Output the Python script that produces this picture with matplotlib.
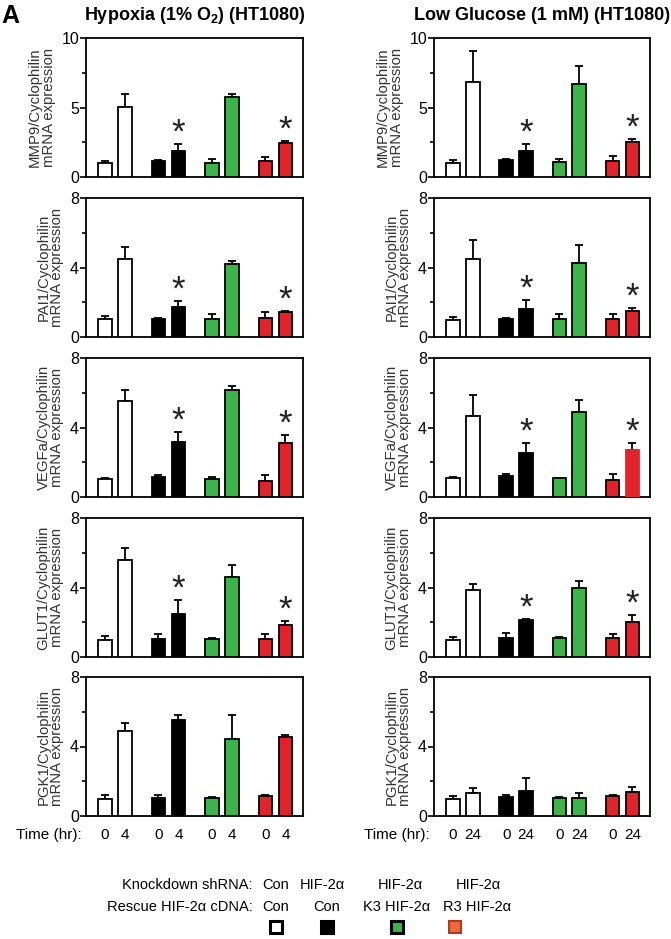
import matplotlib
matplotlib.use("Agg")
import matplotlib.pyplot as plt
from matplotlib.patches import Rectangle
import numpy as np

plt.rcParams['font.family'] = ['Liberation Sans', 'DejaVu Sans']
plt.rcParams['mathtext.fontset'] = 'custom'
plt.rcParams['mathtext.rm'] = 'Liberation Sans'
plt.rcParams['mathtext.bf'] = 'Liberation Sans:bold'

# ---------------- data ----------------
genes = ["MMP9", "PAI1", "VEGFa", "GLUT1", "PGK1"]
ymax = [10, 8, 8, 8, 8]
col_titles = [r"Hypoxia (1% O$_\mathbf{2}$) (HT1080)", "Low Glucose (1 mM) (HT1080)"]
time_labels_hyp = ["0", "4", "0", "4", "0", "4", "0", "4"]
time_labels_glc = ["0", "24", "0", "24", "0", "24", "0", "24"]

# bar order: Con 0, Con t, KD 0, KD t, K3 0, K3 t, R3 0, R3 t
hyp_mmp9 = [1.01, 5.06, 1.18, 1.86, 1.04, 5.76, 1.13, 2.43]
hyp_mmp9_err = [0.12, 0.90, 0.07, 0.50, 0.24, 0.24, 0.34, 0.17]
hyp_pai1 = [1.03, 4.50, 1.05, 1.75, 1.05, 4.22, 1.10, 1.45]
hyp_pai1_err = [0.19, 0.70, 0.07, 0.35, 0.25, 0.13, 0.35, 0.05]
hyp_vegfa = [1.06, 5.54, 1.13, 3.17, 1.04, 6.13, 0.92, 3.10]
hyp_vegfa_err = [0.04, 0.59, 0.12, 0.56, 0.09, 0.24, 0.37, 0.44]
hyp_glut1 = [1.00, 5.60, 1.05, 2.50, 1.05, 4.60, 1.05, 1.85]
hyp_glut1_err = [0.20, 0.70, 0.30, 0.80, 0.05, 0.70, 0.25, 0.25]
hyp_pgk1 = [1.00, 4.90, 1.05, 5.50, 1.05, 4.45, 1.15, 4.55]
hyp_pgk1_err = [0.20, 0.45, 0.15, 0.30, 0.05, 1.35, 0.05, 0.10]

glc_mmp9 = [1.04, 6.87, 1.23, 1.88, 1.08, 6.67, 1.16, 2.53]
glc_mmp9_err = [0.16, 2.17, 0.05, 0.53, 0.22, 1.28, 0.36, 0.17]
glc_pai1 = [1.00, 4.50, 1.05, 1.60, 1.05, 4.25, 1.05, 1.50]
glc_pai1_err = [0.15, 1.10, 0.05, 0.55, 0.30, 1.05, 0.30, 0.15]
glc_vegfa = [1.12, 4.69, 1.19, 2.56, 1.08, 4.88, 0.96, 2.73]
glc_vegfa_err = [0.03, 1.16, 0.14, 0.52, 0.04, 0.72, 0.35, 0.35]
glc_glut1 = [1.00, 3.85, 1.10, 2.15, 1.10, 4.00, 1.10, 2.00]
glc_glut1_err = [0.15, 0.35, 0.30, 0.05, 0.05, 0.35, 0.25, 0.40]
glc_pgk1 = [1.00, 1.30, 1.10, 1.45, 1.05, 1.05, 1.15, 1.40]
glc_pgk1_err = [0.15, 0.30, 0.10, 0.75, 0.05, 0.30, 0.05, 0.25]

hyp_vals = [hyp_mmp9, hyp_pai1, hyp_vegfa, hyp_glut1, hyp_pgk1]
hyp_errs = [hyp_mmp9_err, hyp_pai1_err, hyp_vegfa_err, hyp_glut1_err, hyp_pgk1_err]
glc_vals = [glc_mmp9, glc_pai1, glc_vegfa, glc_glut1, glc_pgk1]
glc_errs = [glc_mmp9_err, glc_pai1_err, glc_vegfa_err, glc_glut1_err, glc_pgk1_err]

# significance stars (bar index) per gene
star_bars = [[3, 7], [3, 7], [3, 7], [3, 7], []]

WHITE = "#FFFFFF"
BLACK = "#000000"
GREEN = "#3DB449"
RED = "#E3232B"
bar_colors = [WHITE, WHITE, BLACK, BLACK, GREEN, GREEN, RED, RED]

legend_knock = ["Con", "HIF-2α", "HIF-2α", "HIF-2α"]
legend_rescue = ["Con", "Con", "K3 HIF-2α", "R3 HIF-2α"]
legend_colors = [WHITE, BLACK, GREEN, "#EE6A3C"]

# ---------------- layout ----------------
W, H = 671, 939
fig = plt.figure(figsize=(W / 100, H / 100), dpi=100)

def px_axes(x0, y0, x1, y1):
    return fig.add_axes([x0 / W, 1 - y1 / H, (x1 - x0) / W, (y1 - y0) / H])

col_x = [(86, 303), (434, 650)]
row_y = [(38, 177), (198, 337), (358, 497), (518, 657), (677, 816)]

gstep = 2.67
xpos = []
for g in range(4):
    xpos += [g * gstep, g * gstep + 1.0]
xpos = np.array(xpos)
xlim = (-0.95, xpos[-1] + 0.88)

for c in range(2):
    vals_all = hyp_vals if c == 0 else glc_vals
    errs_all = hyp_errs if c == 0 else glc_errs
    for r in range(5):
        x0, x1 = col_x[c]
        y0, y1 = row_y[r]
        ax = px_axes(x0, y0, x1, y1)
        vals = np.array(vals_all[r])
        errs = np.array(errs_all[r])
        edgecols = [BLACK] * 8
        if c == 1 and r == 2:
            edgecols[7] = RED
        ax.bar(xpos, vals, width=0.68, color=bar_colors, edgecolor=edgecols,
               linewidth=1.3, zorder=3)
        ax.errorbar(xpos, vals, yerr=[np.zeros(8), errs], fmt='none',
                    ecolor='black', elinewidth=1.3, capsize=3, capthick=1.3,
                    zorder=2)
        for b in star_bars[r]:
            ax.annotate("*", xy=(xpos[b], vals[b] + errs[b]), xytext=(0, 1),
                        textcoords='offset points', ha='center', va='baseline',
                        fontsize=25, color='#222222')
        ax.set_xlim(*xlim)
        ax.set_ylim(0, ymax[r])
        if ymax[r] == 10:
            ax.set_yticks([0, 5, 10])
            ax.set_yticks([2.5, 7.5], minor=True)
        else:
            ax.set_yticks([0, 4, 8])
            ax.set_yticks([2, 6], minor=True)
        ax.set_xticks([])
        ax.tick_params(axis='y', which='major', length=4, width=1.2,
                       labelsize=11.5, pad=1)
        ax.tick_params(axis='y', which='minor', length=3, width=1.2)
        for s in ax.spines.values():
            s.set_linewidth(1.3)
        ax.set_ylabel(f"{genes[r]}/Cyclophilin\nmRNA expression", fontsize=10.7,
                      color='#333333', labelpad=4, linespacing=1.0)

    cx = (col_x[c][0] + col_x[c][1]) / 2
    fig.text(cx / W, 1 - 16 / H, col_titles[c], ha='center', va='center',
             fontsize=13, fontweight='bold')

    x0, x1 = col_x[c]
    tl = time_labels_hyp if c == 0 else time_labels_glc
    scale = (x1 - x0) / (xlim[1] - xlim[0])
    for i, lab in enumerate(tl):
        px = x0 + (xpos[i] - xlim[0]) * scale
        fig.text(px / W, 1 - 835 / H, lab, ha='center', va='center', fontsize=11)
    fig.text((x0 - 4) / W, 1 - 835 / H, "Time (hr):", ha='right', va='center',
             fontsize=11)

fig.text(1 / W, 1 - 16 / H, "A", ha='left', va='center', fontsize=18,
         fontweight='bold')

# legend block
fig.text(253 / W, 1 - 885 / H, "Knockdown shRNA:", ha='right', va='center',
         fontsize=10.5)
fig.text(253 / W, 1 - 907 / H, "Rescue HIF-2α cDNA:", ha='right', va='center',
         fontsize=10.5)
knock_x = [276, 322, 400, 478]
rescue_x = [276, 327, 397, 477]
square_x = [276, 327, 397, 455]
for i in range(4):
    fig.text(knock_x[i] / W, 1 - 885 / H, legend_knock[i], ha='center',
             va='center', fontsize=10.5)
    fig.text(rescue_x[i] / W, 1 - 907 / H, legend_rescue[i], ha='center',
             va='center', fontsize=10.5)
    s = 12
    ec = "#B03A1E" if i == 3 else BLACK
    lw = 1.5 if i == 3 else 2.2
    fig.patches.append(Rectangle(((square_x[i] - s / 2) / W, 1 - (927 + s / 2) / H),
                                 s / W, s / H, transform=fig.transFigure,
                                 facecolor=legend_colors[i], edgecolor=ec,
                                 linewidth=lw))

fig.savefig("out.png", dpi=100)
